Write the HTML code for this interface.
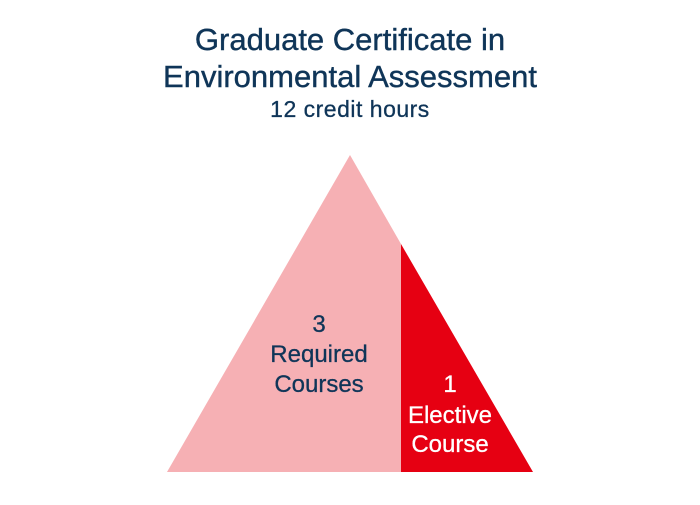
<!DOCTYPE html>
<html><head><style>html,body{margin:0;padding:0;background:#fff;}</style></head>
<body>
<svg width="700" height="500" viewBox="0 0 700 500" xmlns="http://www.w3.org/2000/svg" font-family="Liberation Sans, sans-serif">
<rect width="700" height="500" fill="#fff"/>
<text x="350" y="50" text-anchor="middle" font-size="31" fill="#0f3558" stroke="#0f3558" stroke-width="0.4">Graduate Certificate in</text>
<text x="350" y="87" text-anchor="middle" font-size="31" fill="#0f3558" stroke="#0f3558" stroke-width="0.4">Environmental Assessment</text>
<text x="350" y="117" text-anchor="middle" font-size="23" letter-spacing="0.5" fill="#0f3558" stroke="#0f3558" stroke-width="0.3">12 credit hours</text>
<polygon points="350,155 167,472 401,472 401,244" fill="#f6b0b4"/>
<polygon points="401,244 533,472 401,472" fill="#e60012"/>
<g font-size="24" text-anchor="middle" fill="#0f3558" stroke="#0f3558" stroke-width="0.3">
<text x="319" y="332">3</text>
<text x="319" y="362">Required</text>
<text x="319" y="392">Courses</text>
</g>
<g font-size="24" text-anchor="middle" fill="#fff" stroke="#fff" stroke-width="0.3">
<text x="450" y="392">1</text>
<text x="450" y="423">Elective</text>
<text x="450" y="452">Course</text>
</g>
</svg>
</body></html>
